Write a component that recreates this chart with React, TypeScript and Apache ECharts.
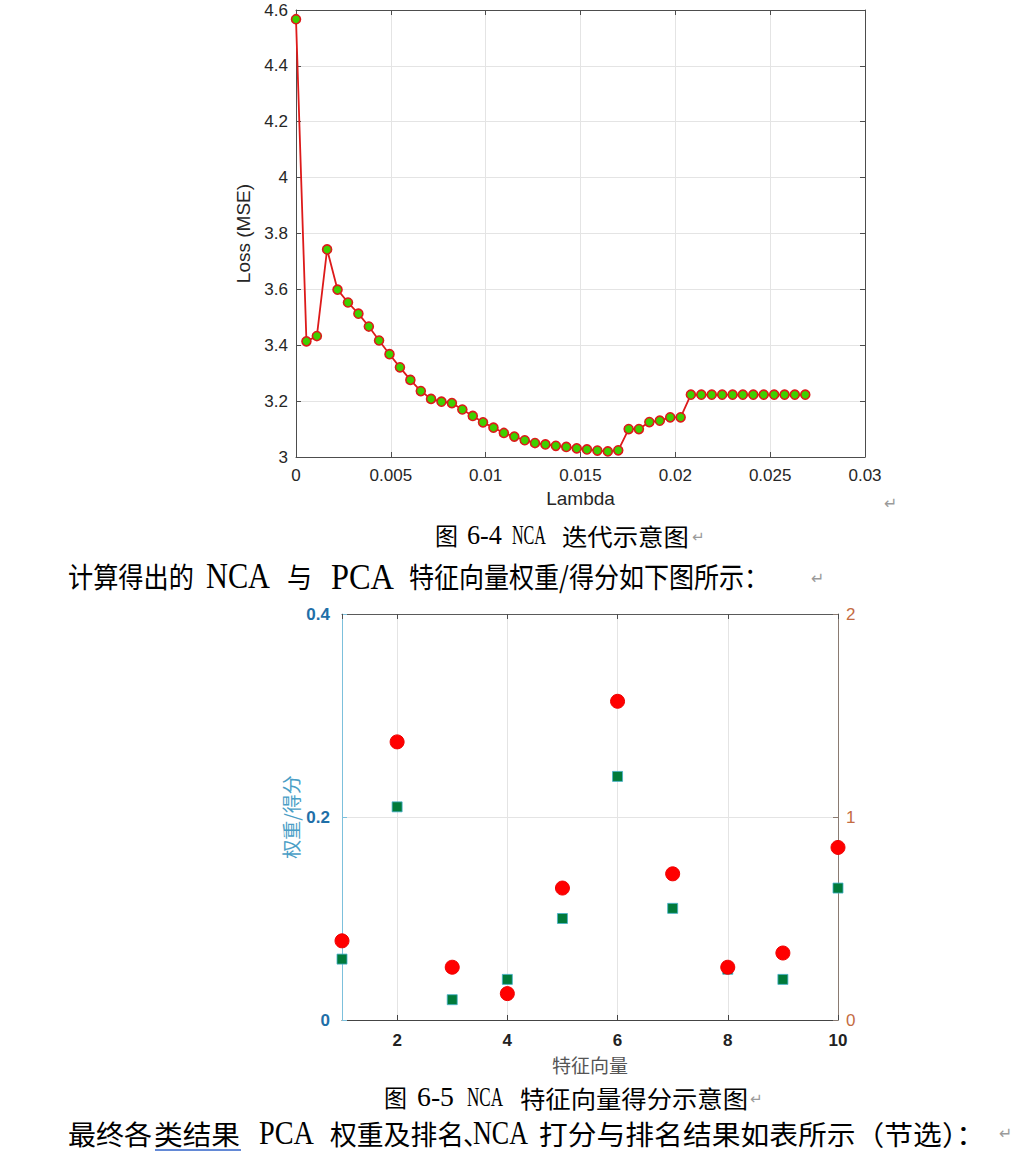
import React, { useEffect, useRef } from 'react';
import * as echarts from 'echarts';

// 图 6-4：Lambda 与 Loss (MSE)
const lambdaValues = [
    0, 0.00055, 0.0011, 0.00164, 0.00219, 0.00274, 0.00329, 0.00384, 0.00438, 0.00493,
    0.00548, 0.00603, 0.00658, 0.00712, 0.00767, 0.00822, 0.00877, 0.00932, 0.00986, 0.01041,
    0.01096, 0.01151, 0.01206, 0.0126, 0.01315, 0.0137, 0.01425, 0.0148, 0.01534, 0.01589,
    0.01644, 0.01699, 0.01754, 0.01808, 0.01863, 0.01918, 0.01973, 0.02028, 0.02082, 0.02137,
    0.02192, 0.02247, 0.02302, 0.02356, 0.02411, 0.02466, 0.02521, 0.02576, 0.0263, 0.02685,
];
const lossValues = [
    4.567, 3.414, 3.433, 3.743, 3.599, 3.553, 3.513, 3.467, 3.417, 3.368,
    3.321, 3.276, 3.236, 3.208, 3.198, 3.193, 3.17, 3.147, 3.124, 3.105,
    3.086, 3.073, 3.06, 3.05, 3.045, 3.04, 3.036, 3.031, 3.027, 3.023,
    3.02, 3.024, 3.1, 3.1, 3.125, 3.13, 3.142, 3.142, 3.223, 3.223,
    3.223, 3.223, 3.223, 3.223, 3.223, 3.223, 3.223, 3.223, 3.223, 3.223,
];

// 图 6-5：特征向量权重/得分
const featureIndex = [1, 2, 3, 4, 5, 6, 7, 8, 9, 10];
const featureWeights = [0.06, 0.21, 0.02, 0.04, 0.1, 0.24, 0.11, 0.05, 0.04, 0.13];
const featureScores = [0.39, 1.37, 0.26, 0.13, 0.65, 1.57, 0.72, 0.26, 0.33, 0.85];

const CJK = '"Noto Sans CJK SC"';
const SERIF = '"Liberation Serif"';
const SANS = '"Liberation Sans", Arial, sans-serif';
const MARK = '"DejaVu Sans"';

// w：该段文字在版面上的宽度（用 scaleX 撑到这个宽度）
type Seg = { text: string; x: number; y: number; w?: number; family: string; size: number; sy?: number; color?: string };

const docSegments: Seg[] = [
    { text: '图', x: 435, y: 535, w: 23, family: CJK, size: 24 },
    { text: '6-4', x: 467, y: 535, w: 35, family: SERIF, size: 27 },
    { text: 'NCA', x: 512, y: 535, w: 34, family: SERIF, size: 27 },
    { text: '迭代示意图', x: 562, y: 535, w: 127, family: CJK, size: 24 },
    { text: '↵', x: 692, y: 537, family: MARK, size: 15, color: '#9a9a9a' },

    { text: '计算得出的', x: 68, y: 576, w: 126, family: CJK, size: 25.2, sy: 1.15 },
    { text: 'NCA', x: 206, y: 576, w: 64, family: SERIF, size: 36 },
    { text: '与', x: 287, y: 576, w: 25, family: CJK, size: 25.2, sy: 1.15 },
    { text: 'PCA', x: 331, y: 576, w: 63, family: SERIF, size: 36 },
    { text: '特征向量权重/得分如下图所示：', x: 409, y: 576, w: 360, family: CJK, size: 25.2, sy: 1.15 },
    { text: '↵', x: 811, y: 578, family: MARK, size: 16, color: '#9a9a9a' },

    { text: '图', x: 384, y: 1097, w: 23, family: CJK, size: 24 },
    { text: '6-5', x: 417, y: 1097, w: 37, family: SERIF, size: 27 },
    { text: 'NCA', x: 467, y: 1097, w: 36, family: SERIF, size: 27 },
    { text: '特征向量得分示意图', x: 520, y: 1097, w: 228, family: CJK, size: 24 },
    { text: '↵', x: 750, y: 1099, family: MARK, size: 15, color: '#9a9a9a' },

    { text: '最终各', x: 68, y: 1133, w: 84, family: CJK, size: 26, sy: 1.05 },
    { text: '类结果', x: 154, y: 1133, w: 86, family: CJK, size: 26, sy: 1.05 },
    { text: 'PCA', x: 259, y: 1133, w: 55, family: SERIF, size: 33 },
    { text: '权重及排名', x: 330, y: 1133, w: 134, family: CJK, size: 26, sy: 1.05 },
    { text: '、', x: 463, y: 1133, w: 10, family: CJK, size: 26, sy: 1.05 },
    { text: 'NCA', x: 473, y: 1133, w: 55, family: SERIF, size: 33 },
    { text: '打分与排名结果如表所示（节选）：', x: 539, y: 1133, w: 446, family: CJK, size: 26, sy: 1.05 },
    { text: '↵', x: 999, y: 1133, family: MARK, size: 16, color: '#9a9a9a' },

    { text: '↵', x: 884, y: 503, family: MARK, size: 16, color: '#9a9a9a' },
];

const frameColor = '#4d4d4d';
const gridColor = '#e4e4e4';

let measureCtx: CanvasRenderingContext2D | null = null;
const measureText = (text: string, font: string) => {
    if (!measureCtx) measureCtx = document.createElement('canvas').getContext('2d');
    if (!measureCtx) return 0;
    measureCtx.font = font;
    return measureCtx.measureText(text).width;
};

const buildOption = () => {
    const graphic: any[] = docSegments.map(s => {
        const font = `${s.size}px ${s.family}`;
        const natural = measureText(s.text, font);
        // 顿号字形只占左半格，只压缩占位不压字形
        const sx = s.w && natural > 0 && s.text !== '、' ? s.w / natural : 1;
        return {
            type: 'text',
            x: s.x,
            y: s.y,
            scaleX: sx,
            scaleY: s.sy || 1,
            originX: 0,
            originY: 0,
            silent: true,
            style: {
                text: s.text,
                x: 0,
                y: 0,
                font,
                fill: s.color || '#000',
                textAlign: 'left',
                textVerticalAlign: 'middle',
            },
        };
    });
    graphic.push({
        type: 'line',
        silent: true,
        shape: { x1: 155, y1: 1150, x2: 241, y2: 1150 },
        style: { stroke: '#2f62c8', lineWidth: 1.5 },
    });

    const frameAxis = {
        axisLine: { show: true, onZero: false, lineStyle: { color: frameColor, width: 1 } },
        axisTick: { show: true, inside: true, length: 5, lineStyle: { color: frameColor } },
        axisLabel: { show: false },
        splitLine: { show: false },
    };

    return {
        animation: false,
        backgroundColor: '#ffffff',
        grid: [
            { left: 296, top: 10, width: 569, height: 447 },
            { left: 342, top: 614, width: 496, height: 406 },
        ],
        xAxis: [
            {
                gridIndex: 0,
                type: 'value',
                min: 0,
                max: 0.03,
                interval: 0.005,
                position: 'bottom',
                name: 'Lambda',
                nameLocation: 'middle',
                nameGap: 32,
                nameTextStyle: { fontFamily: SANS, fontSize: 19, color: '#262626' },
                axisLine: { show: true, onZero: false, lineStyle: { color: frameColor } },
                axisTick: { inside: true, length: 5, lineStyle: { color: frameColor } },
                axisLabel: {
                    margin: 10,
                    fontFamily: SANS,
                    fontSize: 17,
                    color: '#262626',
                    formatter: (v: number) => String(Number(v.toFixed(4))),
                },
                splitLine: { show: true, lineStyle: { color: gridColor } },
            },
            {
                gridIndex: 0,
                type: 'value',
                min: 0,
                max: 0.03,
                interval: 0.005,
                position: 'top',
                ...frameAxis,
            },
            {
                gridIndex: 1,
                type: 'value',
                min: 1,
                max: 10,
                splitNumber: 5,
                position: 'bottom',
                name: '特征向量',
                nameLocation: 'middle',
                nameGap: 35,
                nameTextStyle: { fontFamily: CJK, fontSize: 19, color: '#555555' },
                axisLine: { show: true, onZero: false, lineStyle: { color: '#444444' } },
                axisTick: { inside: true, length: 5, lineStyle: { color: '#444444' } },
                axisLabel: {
                    margin: 12,
                    showMinLabel: false,
                    fontFamily: SANS,
                    fontSize: 17,
                    fontWeight: 'bold',
                    color: '#222222',
                },
                splitLine: { show: true, lineStyle: { color: gridColor } },
            },
            {
                gridIndex: 1,
                type: 'value',
                min: 1,
                max: 10,
                splitNumber: 5,
                position: 'top',
                ...frameAxis,
                axisLine: { show: true, onZero: false, lineStyle: { color: '#5a5a5a', width: 1 } },
            },
        ],
        yAxis: [
            {
                gridIndex: 0,
                type: 'value',
                min: 3,
                max: 4.6,
                interval: 0.2,
                position: 'left',
                name: 'Loss (MSE)',
                nameLocation: 'middle',
                nameGap: 38,
                nameTextStyle: { fontFamily: SANS, fontSize: 19, color: '#262626' },
                axisLine: { show: true, onZero: false, lineStyle: { color: frameColor } },
                axisTick: { inside: true, length: 5, lineStyle: { color: frameColor } },
                axisLabel: {
                    margin: 8,
                    fontFamily: SANS,
                    fontSize: 17,
                    color: '#262626',
                    formatter: (v: number) => String(Number(v.toFixed(1))),
                },
                splitLine: { show: true, lineStyle: { color: gridColor } },
            },
            {
                gridIndex: 0,
                type: 'value',
                min: 3,
                max: 4.6,
                interval: 0.2,
                position: 'right',
                ...frameAxis,
            },
            {
                gridIndex: 1,
                type: 'value',
                min: 0,
                max: 0.4,
                interval: 0.2,
                position: 'left',
                name: '权重/得分',
                nameLocation: 'middle',
                nameGap: 42,
                nameTextStyle: { fontFamily: CJK, fontSize: 19, color: '#4a9ec6' },
                axisLine: { show: true, onZero: false, lineStyle: { color: '#7cc0dc' } },
                axisTick: { inside: true, length: 5, lineStyle: { color: '#7cc0dc' } },
                axisLabel: {
                    margin: 12,
                    fontFamily: SANS,
                    fontSize: 17,
                    fontWeight: 'bold',
                    color: '#1f6fa8',
                    formatter: (v: number) => String(Number(v.toFixed(1))),
                },
                splitLine: { show: true, lineStyle: { color: gridColor } },
            },
            {
                gridIndex: 1,
                type: 'value',
                min: 0,
                max: 2,
                interval: 1,
                position: 'right',
                axisLine: { show: true, onZero: false, lineStyle: { color: '#8a7b72' } },
                axisTick: { inside: true, length: 5, lineStyle: { color: '#8a7b72' } },
                axisLabel: {
                    margin: 8,
                    fontFamily: SANS,
                    fontSize: 17,
                    color: '#c46b42',
                },
                splitLine: { show: false },
            },
        ],
        series: [
            {
                type: 'line',
                xAxisIndex: 0,
                yAxisIndex: 0,
                data: lambdaValues.map((x, i) => [x, lossValues[i]]),
                symbol: 'circle',
                symbolSize: 9,
                showSymbol: true,
                clip: false,
                lineStyle: { color: '#dd1a1a', width: 1.8 },
                itemStyle: { color: '#3fd000', borderColor: '#dd1a1a', borderWidth: 1.6 },
            },
            {
                type: 'scatter',
                xAxisIndex: 2,
                yAxisIndex: 2,
                data: featureIndex.map((f, i) => [f, featureWeights[i]]),
                symbol: 'rect',
                symbolSize: 10,
                clip: false,
                itemStyle: { color: '#007a3a', borderColor: '#45b0cc', borderWidth: 0.8, opacity: 1 },
            },
            {
                type: 'scatter',
                xAxisIndex: 2,
                yAxisIndex: 3,
                data: featureIndex.map((f, i) => [f, featureScores[i]]),
                symbol: 'circle',
                symbolSize: 14,
                clip: false,
                itemStyle: { color: '#ff0000', borderColor: '#ee0000', borderWidth: 1, opacity: 1 },
            },
        ],
        graphic,
    };
};

const App: React.FC = () => {
    const chartRef = useRef<HTMLDivElement>(null);

    useEffect(() => {
        if (!chartRef.current) return;
        const chart = echarts.init(chartRef.current, undefined, { renderer: 'svg' });
        chart.setOption(buildOption() as any);
        return () => chart.dispose();
    }, []);

    return (
        <div
            ref={chartRef}
            style={{ position: 'absolute', left: 0, top: 0, width: 1012, height: 1154, background: '#fff' }}
        />
    );
};

export default App;
